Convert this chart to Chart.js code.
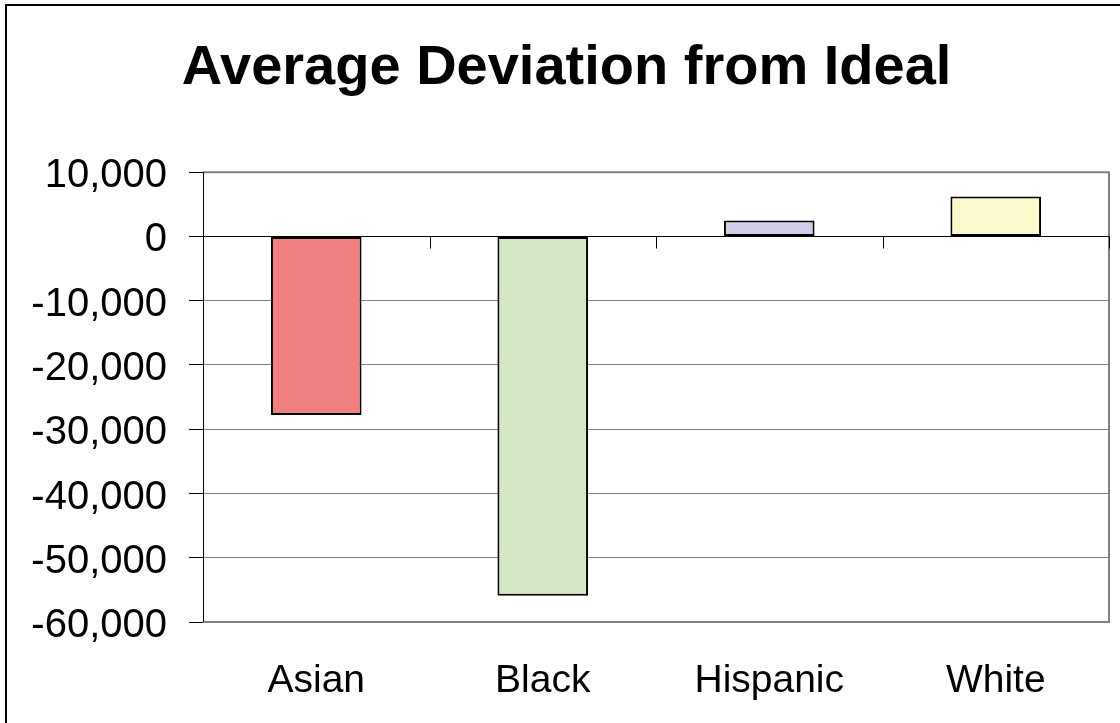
<!DOCTYPE html>
<html>
<head>
<meta charset="utf-8">
<script src="https://cdn.jsdelivr.net/npm/chart.js@4"></script>
<style>
    html, body { margin: 0; padding: 0; background: #fff; }
    #chart-box { width: 1120px; height: 723px; }
</style>
</head>
<body>
<div id="chart-box"><canvas id="deviation-chart"></canvas></div>
<script>
const CHART_TITLE = 'Average Deviation from Ideal';
const groups = ['Asian', 'Black', 'Hispanic', 'White'];
const deviation = [-27800, -55900, 2500, 6200];
const barColors = ['#f08080', '#d3e6c6', '#cfcde8', '#fbf9cc'];
const yTicks = [10000, 0, -10000, -20000, -30000, -40000, -50000, -60000];

const FONT = "'Liberation Sans', Arial, sans-serif";

//draws the outer frame, the plot border and the little ticks hanging off the zero line
const framePlugin = {
    id: 'frame',
    beforeDraw(chart) {
        const ctx = chart.ctx;
        ctx.save();
        ctx.strokeStyle = '#000';
        ctx.lineWidth = 2;
        ctx.beginPath();
        ctx.moveTo(6, chart.height);
        ctx.lineTo(6, 5);
        ctx.lineTo(chart.width, 5);
        ctx.stroke();
        ctx.restore();
    },
    afterDatasetsDraw(chart) {
        const ctx = chart.ctx;
        const area = chart.chartArea;
        const x = chart.scales.x;
        const zero = Math.round(chart.scales.y.getPixelForValue(0)) + 0.5;
        ctx.save();
        ctx.strokeStyle = '#808080';
        ctx.lineWidth = 2;
        ctx.beginPath();
        ctx.moveTo(area.left, area.top);
        ctx.lineTo(area.right, area.top);
        ctx.lineTo(area.right, area.bottom);
        ctx.lineTo(area.left, area.bottom);
        ctx.stroke();

        ctx.strokeStyle = '#000';
        ctx.lineWidth = 1;
        ctx.beginPath();
        ctx.moveTo(area.left, zero);
        ctx.lineTo(area.right, zero);
        for (let i = 1; i <= groups.length; i++) {
            const px = Math.round(x.getPixelForValue(i - 0.5)) + 0.5;
            ctx.moveTo(px, zero);
            ctx.lineTo(px, zero + 12);
        }
        ctx.stroke();

        ctx.beginPath();
        ctx.moveTo(area.left + 0.5, area.top);
        ctx.lineTo(area.left + 0.5, area.bottom);
        ctx.stroke();
        ctx.restore();
    }
};

const chartContext = document.getElementById('deviation-chart').getContext('2d');
const deviationChart = new Chart(chartContext, {
    type: 'bar',
    data: {
        labels: groups,
        datasets: [{
            data: deviation,
            backgroundColor: barColors,
            borderColor: '#000',
            borderWidth: 2,
            borderSkipped: false,
            categoryPercentage: 1,
            barPercentage: 0.4
        }]
    },
    options: {
        responsive: true,
        maintainAspectRatio: false,
        animation: false,
        layout: {
            padding: { left: 24, right: 11, top: 0, bottom: 0 }
        },
        scales: {
            x: {
                grid: { display: false },
                border: { display: false },
                ticks: {
                    color: '#000',
                    padding: 28,
                    font: { family: FONT, size: 39 }
                },
                afterFit(scale) {
                    scale.height = 101;
                }
            },
            y: {
                min: -60000,
                max: 10000,
                afterBuildTicks(scale) {
                    scale.ticks = yTicks.map(v => ({ value: v }));
                },
                grid: {
                    color: '#808080',
                    tickColor: '#000',
                    tickLength: 14
                },
                border: { display: false },
                ticks: {
                    color: '#000',
                    padding: 22,
                    labelOffset: 4,
                    font: { family: FONT, size: 40 },
                    callback: v => v.toLocaleString('en-US')
                },
                afterFit(scale) {
                    scale.width = 179;
                }
            }
        },
        plugins: {
            legend: { display: false },
            tooltip: { enabled: false },
            title: {
                display: true,
                text: CHART_TITLE,
                color: '#000',
                font: { family: FONT, size: 56, weight: 'bold' },
                padding: { top: 35, bottom: 70 }
            }
        }
    },
    plugins: [framePlugin]
});
</script>
</body>
</html>
